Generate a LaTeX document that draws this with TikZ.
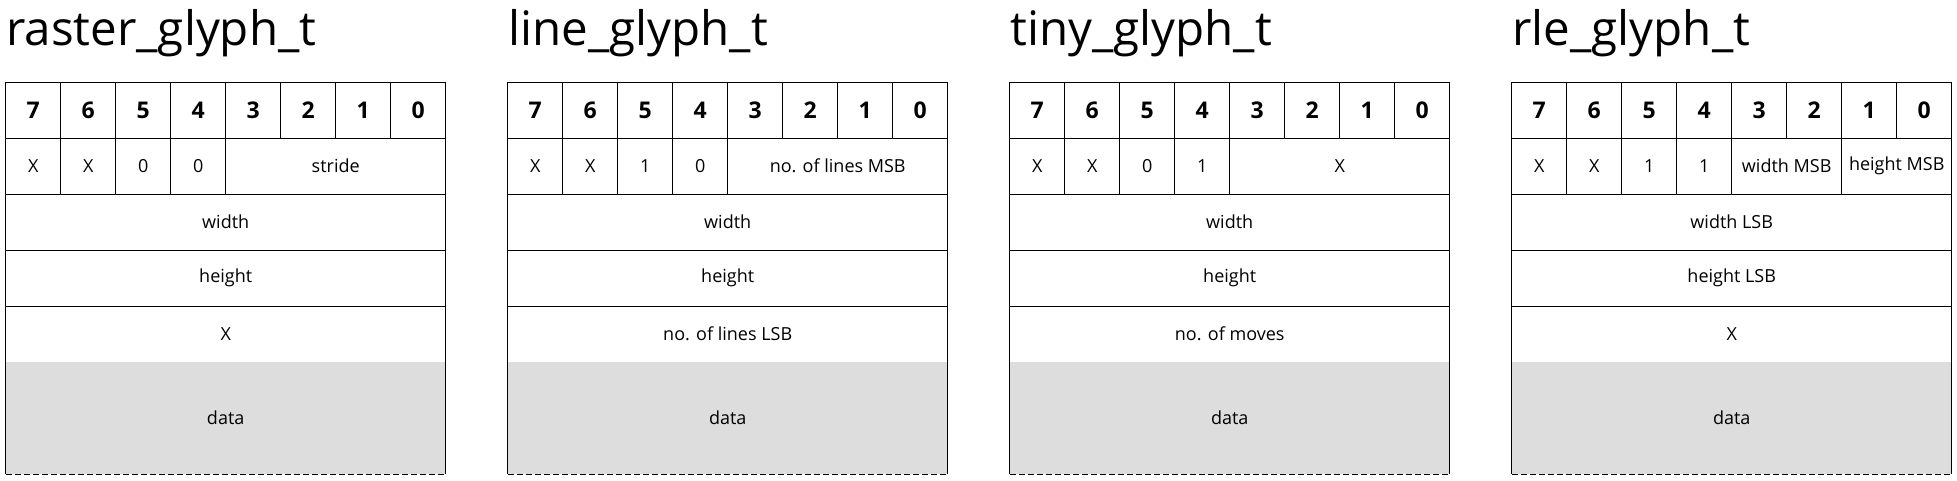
\documentclass[tikz,border=0pt]{standalone}
\usepackage{fontspec}
\setmainfont{Open Sans}
\definecolor{datagray}{HTML}{DDDDDD}
\newcommand\glyphtab[9]{%
\begin{scope}[xshift=#2pt]
 \node[titl] (#1-title) at (0.5,45) {#3};
 \foreach \b in {7,...,0} \node[bitc] (#1-h\b) at ({27.5+55*(7-\b)},110) {\b};
 \node[cell] (#1-b7) at (27.5,166) {X};
 \node[cell] (#1-b6) at (82.5,166) {X};
 \node[cell] (#1-b5) at (137.5,166) {#4};
 \node[cell] (#1-b4) at (192.5,166) {#5};
 #6
 \node[wide] (#1-r3) at (220,222) {#7};
 \node[wide] (#1-r4) at (220,278) {#8};
 \node[wide] (#1-r5) at (220,334) {#9};
 \node[datac] (#1-data) at (220,418) {data};
 \draw[edge] (#1-data.north west) -- (#1-data.south west);
 \draw[edge] (#1-data.north east) -- (#1-data.south east);
 \draw[edge,dash pattern=on 6pt off 3pt] (#1-data.south west) -- (#1-data.south east);
\end{scope}}
\begin{document}
\begin{tikzpicture}[x=1pt,y=-1pt,
  edge/.style={line width=1pt,draw=black},
  cell/.style={draw,line width=1pt,minimum width=55pt,minimum height=56pt,inner sep=0pt,font=\fontsize{18}{21}\selectfont},
  bitc/.style={cell,font=\fontsize{23}{27}\selectfont\bfseries},
  wide/.style={cell,minimum width=440pt},
  span4/.style={cell,minimum width=220pt},
  span2/.style={cell,minimum width=110pt},
  datac/.style={fill=datagray,minimum width=440pt,minimum height=112pt,inner sep=0pt,font=\fontsize{18}{21}\selectfont},
  titl/.style={anchor=base west,inner sep=0pt,font=\fontsize{47.5}{56}\selectfont}]
\useasboundingbox (0,0) rectangle (1957,480);
\glyphtab{ra}{5.7}{raster\_glyph\_t}{0}{0}{\node[span4] (ra-stride) at (330,166) {stride};}{width}{height}{X}
\glyphtab{li}{507.7}{line\_glyph\_t}{1}{0}{\node[span4] (li-msb) at (330,166) {no. of lines MSB};}{width}{height}{no. of lines LSB}
\glyphtab{ti}{1009.7}{tiny\_glyph\_t}{0}{1}{\node[span4] (ti-x) at (330,166) {X};}{width}{height}{no. of moves}
\glyphtab{rl}{1511.7}{rle\_glyph\_t}{1}{1}{\node[span2] (rl-wmsb) at (275,166) {width MSB};\node[span2] (rl-hmsb) at (385,166) {height MSB};}{width LSB}{height LSB}{X}
\end{tikzpicture}
\end{document}
